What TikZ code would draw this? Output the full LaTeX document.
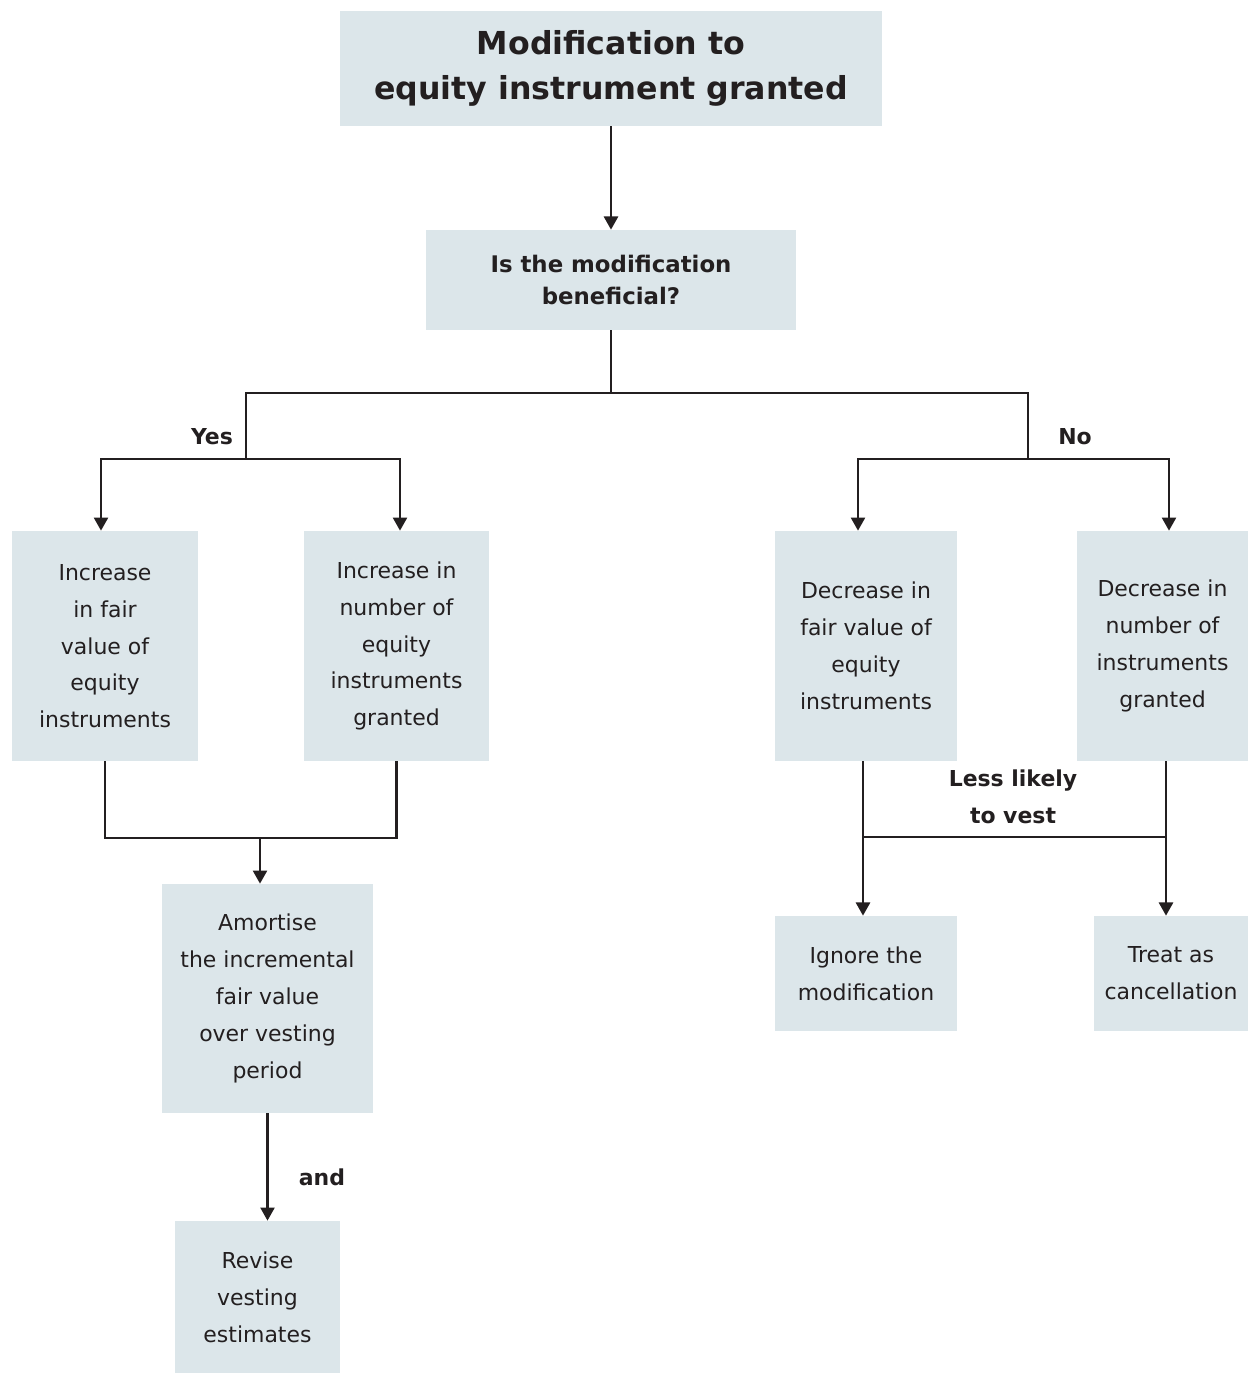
\documentclass[tikz,border=0pt]{standalone}
\usepackage{fontspec}
\setmainfont{DejaVu Sans}
\usetikzlibrary{arrows.meta}

\definecolor{boxfill}{RGB}{220,230,234}
\definecolor{ink}{RGB}{35,31,32}

\tikzset{
  box/.style={fill=boxfill, text=ink, align=center, inner sep=0pt,
    font=\fontsize{12.5}{21}\selectfont},
  link/.style={draw=ink, line width=1.4pt},
  arr/.style={link, -{Triangle[length=7.5pt,width=8pt]}},
  lbl/.style={text=ink, align=center, font=\bfseries\fontsize{12.5}{21}\selectfont},
}

\begin{document}
\begin{tikzpicture}[x=0.02cm, y=-0.02cm]
\useasboundingbox (0,0) rectangle (1248,1373);

% top of the tree
\node[box, minimum width=10.84cm, minimum height=2.3cm,
  font=\bfseries\fontsize{18}{25.5}\selectfont] (title) at (611,68.5)
  {Modification to\\equity instrument granted};
\node[box, minimum width=7.4cm, minimum height=2cm,
  font=\bfseries\fontsize{13}{18}\selectfont] (benef) at (611,280)
  {Is the modification\\beneficial?};

% the four kinds of change
\node[box, minimum width=3.72cm, minimum height=4.6cm, text depth=-0.35cm] (incfair) at (105,646)
  {Increase\\in fair\\value of\\equity\\instruments};
\node[box, minimum width=3.7cm, minimum height=4.6cm] (incnum) at (396.5,646)
  {Increase in\\number of\\equity\\instruments\\granted};
\node[box, minimum width=3.64cm, minimum height=4.6cm] (decfair) at (866,646)
  {Decrease in\\fair value of\\equity\\instruments};
\node[box, minimum width=3.42cm, minimum height=4.6cm] (decnum) at (1162.5,646)
  {Decrease in\\number of\\instruments\\granted};

% what to do
\node[box, minimum width=4.22cm, minimum height=4.58cm] (amort) at (267.5,998.5)
  {Amortise\\the incremental\\fair value\\over vesting\\period};
\node[box, minimum width=3.3cm, minimum height=3.04cm] (revise) at (257.5,1297)
  {Revise\\vesting\\estimates};
\node[box, minimum width=3.64cm, minimum height=2.3cm] (ignore) at (866,973.5)
  {Ignore the\\modification};
\node[box, minimum width=3.08cm, minimum height=2.3cm] (treat) at (1171,973.5)
  {Treat as\\cancellation};

% forks
\coordinate (split) at (611,393);
\coordinate (yesup) at (246,393);
\coordinate (noup) at (1028,393);
\coordinate (yesfork) at (246,459);
\coordinate (nofork) at (1028,459);
\coordinate (join) at (260,838);
\coordinate (lessl) at (863,837);
\coordinate (lessr) at (1166,837);

\draw[arr] (title) -- (benef);
\draw[link] (benef) -- (split);
\draw[link] (yesfork) -- (yesup) -- (noup) -- (nofork);
\draw[arr] (yesfork) -| ([xshift=-0.08cm]incfair.north);
\draw[arr] (yesfork) -| ([xshift=0.07cm]incnum.north);
\draw[arr] (nofork) -| ([xshift=-0.16cm]decfair.north);
\draw[arr] (nofork) -| ([xshift=0.13cm]decnum.north);

\draw[link] (incfair) |- (join) -| (incnum);
\draw[arr] (join) -- (join |- amort.north);
\draw[arr] (amort) -- (revise.north -| amort.south);

\draw[arr] (decfair.south -| lessl) -- (ignore.north -| lessl);
\draw[arr] (decnum.south -| lessr) -- (treat.north -| lessr);
\draw[link] (lessl) -- (lessr);

\node[lbl] (yes) at (212,437) {Yes};
\node[lbl] (no) at (1075,437) {No};
\node[lbl] (less) at (1013,797) {Less likely\\to vest};
\node[lbl] (and) at (322,1177) {and};
\end{tikzpicture}
\end{document}
